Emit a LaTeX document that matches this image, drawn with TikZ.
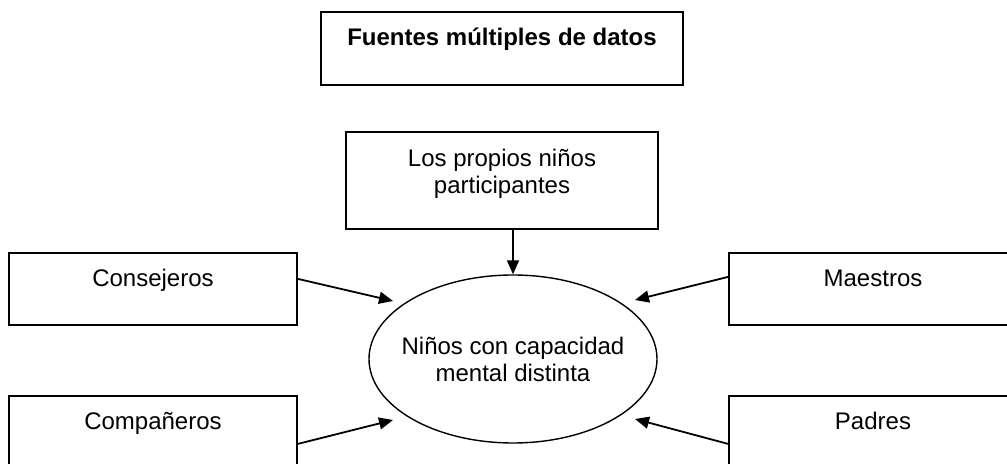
\documentclass[tikz,border=0pt]{standalone}
\usepackage{fontspec}
\setmainfont{Liberation Sans}
\usetikzlibrary{shapes.geometric,arrows.meta,calc}

\begin{document}
\begin{tikzpicture}[
  x=0.5pt,y=-0.5pt,
  font=\fontsize{12}{13.5}\selectfont,
  caja/.style={draw,line width=0.9pt,anchor=north,inner sep=0pt,
               align=center,text height=17pt},
  elipse/.style={draw,ellipse,line width=0.7pt,minimum width=144pt,
                 minimum height=84pt,align=center,inner xsep=-5pt,inner ysep=0pt},
  flecha/.style={line width=0.9pt,-{Triangle[length=7pt,width=6pt]}},
]
\useasboundingbox (0,0) rectangle (1007,464);
\node[caja,minimum width=181pt,text depth=19.5pt] (titulo) at (502,11)
  {\textbf{Fuentes múltiples de datos}};
\node[caja,minimum width=156pt,text height=31pt,text depth=17.5pt] (propios) at (502,131)
  {Los propios niños\\participantes};
\node[caja,minimum width=144pt,text depth=19pt] (consejeros) at (153,252) {Consejeros};
\node[caja,minimum width=144pt,text depth=19pt] (companeros) at (153,395) {Compañeros};
\node[caja,minimum width=144pt,text depth=19pt] (maestros) at (873,252) {Maestros};
\node[caja,minimum width=144pt,text depth=19pt] (padres) at (873,395) {Padres};
\node[elipse] (ninos) at (513,359) {Niños con capacidad\\mental distinta};

% flechas hacia los niños
\draw[flecha] (propios.south -| ninos.north) -- (ninos.north);
\draw[flecha] ([yshift=5pt]consejeros.east) -- ($(ninos)+(-120,-58)$);
\draw[flecha] ([yshift=-6pt]companeros.east) -- ($(ninos)+(-120,61)$);
\draw[flecha] ([yshift=6pt]maestros.west) -- ($(ninos)+(122,-59)$);
\draw[flecha] ([yshift=-6pt]padres.west) -- ($(ninos)+(122,60)$);
\end{tikzpicture}
\end{document}
